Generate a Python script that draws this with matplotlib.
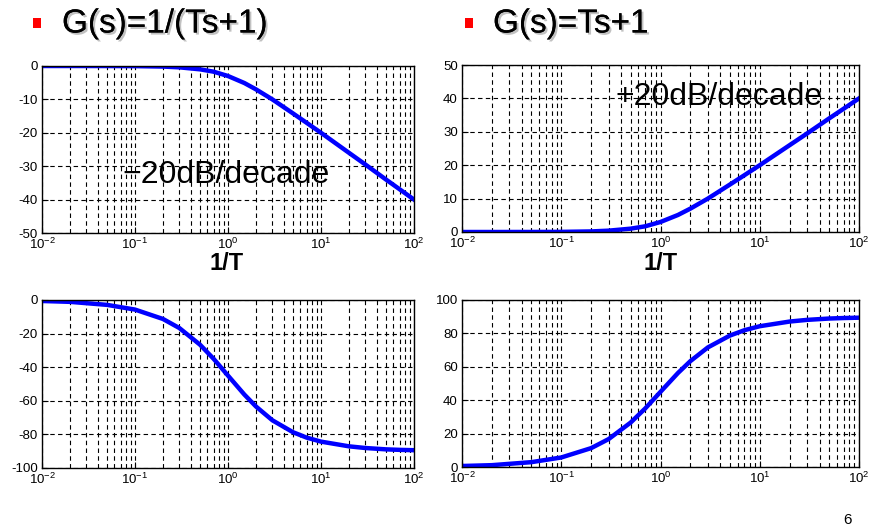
import matplotlib
matplotlib.use('Agg')
import matplotlib.pyplot as plt
import matplotlib.patheffects as pe
from matplotlib.patches import Rectangle

plt.rcParams['font.family'] = ['Liberation Sans', 'DejaVu Sans']
plt.rcParams['mathtext.fontset'] = 'custom'
plt.rcParams['mathtext.rm'] = 'Liberation Sans'
plt.rcParams['mathtext.it'] = 'Liberation Sans'
plt.rcParams['mathtext.default'] = 'regular'

# frequency points (rad/s) read along the log axis
w = [0.01, 0.02, 0.05, 0.1, 0.2, 0.3, 0.5, 0.7, 1, 1.5, 2, 3, 5, 7, 10, 20, 30, 50, 70, 100]

# 1/(Ts+1): magnitude (dB) and phase (deg)
mag_lag = [0, 0, -0.01, -0.04, -0.17, -0.4, -1.0, -1.7, -3.0, -5.1, -7.0, -10.0,
           -14.2, -17.0, -20.0, -26.0, -29.5, -34.0, -36.9, -40.0]
ph_lag = [-0.6, -1.1, -2.9, -5.7, -11.3, -16.7, -26.6, -35.0, -45.0, -56.3, -63.4,
          -71.6, -78.7, -81.9, -84.3, -87.1, -88.1, -88.9, -89.2, -89.4]

# Ts+1: magnitude (dB) and phase (deg)
mag_lead = [0, 0, 0.01, 0.04, 0.17, 0.4, 1.0, 1.7, 3.0, 5.1, 7.0, 10.0,
            14.2, 17.0, 20.0, 26.0, 29.5, 34.0, 36.9, 40.0]
ph_lead = [0.6, 1.1, 2.9, 5.7, 11.3, 16.7, 26.6, 35.0, 45.0, 56.3, 63.4,
           71.6, 78.7, 81.9, 84.3, 87.1, 88.1, 88.9, 89.2, 89.4]

titles = ['G(s)=1/(Ts+1)', 'G(s)=Ts+1']
slope_labels = ['\u221220dB/decade', '+20dB/decade']

W, H = 884, 530
fig = plt.figure(figsize=(W / 100, H / 100), dpi=100)


def box(l, t, r, b):
    return [l / W, 1 - b / H, (r - l) / W, (b - t) / H]


def setup(ax, ylim, yticks):
    ax.set_xscale('log')
    ax.set_xlim(1e-2, 1e2)
    ax.set_ylim(*ylim)
    ax.set_yticks(yticks)
    ax.set_yticklabels([str(v) for v in yticks])
    ax.set_xticks([1e-2, 1e-1, 1, 1e1, 1e2])
    ax.set_xticklabels([r'$10^{-2}$', r'$10^{-1}$', r'$10^{0}$', r'$10^{1}$', r'$10^{2}$'])
    ax.grid(True, which='both', axis='x', color='black', linestyle=(0, (4, 3)), linewidth=0.8)
    ax.grid(True, which='major', axis='y', color='black', linestyle=(0, (4, 3)), linewidth=0.8)
    ax.tick_params(which='both', direction='in', labelsize=9.5, pad=3)
    ax.tick_params(which='major', length=4)
    ax.tick_params(which='minor', length=2)
    for s in ax.spines.values():
        s.set_linewidth(1.0)


ax1 = fig.add_axes(box(42, 66, 414, 233))
ax1.plot(w, mag_lag, color='#0000ff', linewidth=3.2)
setup(ax1, (-50, 0), [0, -10, -20, -30, -40, -50])

ax2 = fig.add_axes(box(462, 65, 859, 232))
ax2.plot(w, mag_lead, color='#0000ff', linewidth=3.2)
setup(ax2, (0, 50), [0, 10, 20, 30, 40, 50])

ax3 = fig.add_axes(box(42, 300, 414, 468))
ax3.plot(w, ph_lag, color='#0000ff', linewidth=3.2)
setup(ax3, (-100, 0), [0, -20, -40, -60, -80, -100])

ax4 = fig.add_axes(box(462, 300, 859, 467))
ax4.plot(w, ph_lead, color='#0000ff', linewidth=3.2)
setup(ax4, (0, 100), [0, 20, 40, 60, 80, 100])

# slope annotations
fig.text(226 / W, 1 - 175 / H, slope_labels[0], ha='center', va='center', fontsize=23)
fig.text(719 / W, 1 - 97 / H, slope_labels[1], ha='center', va='center', fontsize=23)

# 1/T labels under the corner frequency
fig.text(227 / W, 1 - 264 / H, '1/T', ha='center', va='center', fontsize=17, fontweight='bold')
fig.text(661 / W, 1 - 264 / H, '1/T', ha='center', va='center', fontsize=17, fontweight='bold')

# slide titles with red bullets
shadow = [pe.withSimplePatchShadow(offset=(1.5, -1.5), shadow_rgbFace='#999999', alpha=0.6), pe.Normal()]
for bx, tx, t in [(33, 62, titles[0]), (465, 493, titles[1])]:
    fig.add_artist(Rectangle((bx / W, 1 - 28 / H), 8 / W, 10 / H, transform=fig.transFigure,
                             facecolor='#ff0000', edgecolor='none'))
    fig.text(tx / W, 1 - 24 / H, t, ha='left', va='center', fontsize=24, path_effects=shadow)

fig.text(848 / W, 1 - 520 / H, '6', ha='center', va='center', fontsize=11)

fig.savefig('out.png', dpi=100)
